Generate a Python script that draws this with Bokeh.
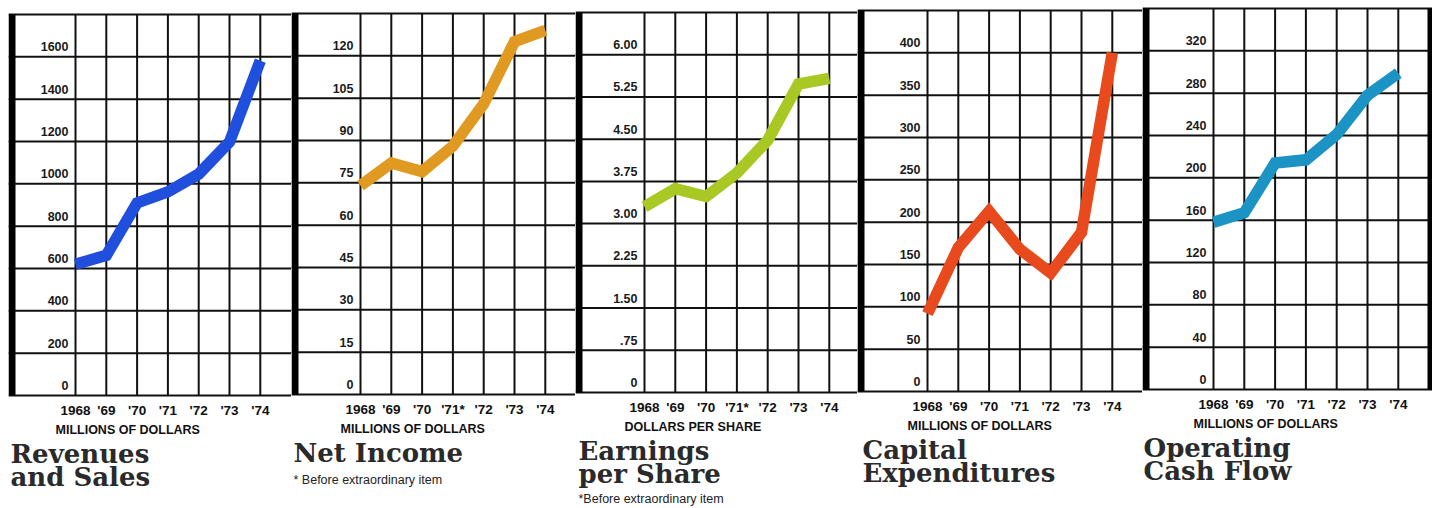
from bokeh.plotting import figure
from bokeh.layouts import row
from bokeh.models import Range1d, BoxAnnotation, Spacer
from bokeh.core.properties import value
from bokeh.embed import file_html
from bokeh.resources import INLINE

# ---------------- data ----------------
years = [1968, 1969, 1970, 1971, 1972, 1973, 1974]
year_labels = ["1968", "'69", "'70", "'71", "'72", "'73", "'74"]
year_labels_note = ["1968", "'69", "'70", "'71*", "'72", "'73", "'74"]

revenues = [620, 662, 910, 962, 1046, 1198, 1582]
net_income = [74, 82, 79, 88, 103, 125, 129]
eps = [3.30, 3.62, 3.48, 3.90, 4.48, 5.48, 5.58]
capex = [92, 170, 213, 168, 140, 188, 400]
cash_flow = [158, 167, 214, 217, 241, 278, 299]

rev_ticks = [0, 200, 400, 600, 800, 1000, 1200, 1400, 1600]
rev_labels = ["0", "200", "400", "600", "800", "1000", "1200", "1400", "1600"]
rev_top = 1800

ni_ticks = [0, 15, 30, 45, 60, 75, 90, 105, 120]
ni_labels = ["0", "15", "30", "45", "60", "75", "90", "105", "120"]
ni_top = 135

eps_ticks = [0, 0.75, 1.50, 2.25, 3.00, 3.75, 4.50, 5.25, 6.00]
eps_labels = ["0", ".75", "1.50", "2.25", "3.00", "3.75", "4.50", "5.25", "6.00"]
eps_top = 6.75

capex_ticks = [0, 50, 100, 150, 200, 250, 300, 350, 400]
capex_labels = ["0", "50", "100", "150", "200", "250", "300", "350", "400"]
capex_top = 450

ocf_ticks = [0, 40, 80, 120, 160, 200, 240, 280, 320]
ocf_labels = ["0", "40", "80", "120", "160", "200", "240", "280", "320"]
ocf_top = 360

titles = [["Revenues", "and Sales"], ["Net Income"], ["Earnings", "per Share"],
          ["Capital", "Expenditures"], ["Operating", "Cash Flow"]]
units = ["MILLIONS OF DOLLARS", "MILLIONS OF DOLLARS", "DOLLARS PER SHARE",
         "MILLIONS OF DOLLARS", "MILLIONS OF DOLLARS"]
note_text = "* Before extraordinary item"
note_text2 = "*Before extraordinary item"

# ---------------- layout / style ----------------
H = 508
PPY = 30.8
SANS = value("Liberation Sans")
SERIF = value("DejaVu Serif")
INK = "#111111"

panels = [
    dict(values=revenues, ticks=rev_ticks, labels=rev_labels, top=rev_top, color="#1f4fdc",
         width=283, x0=67, gt=14, gb=395, xl=year_labels, note=None, tx=2, right_bar=False),
    dict(values=net_income, ticks=ni_ticks, labels=ni_labels, top=ni_top, color="#e09a22",
         width=284, x0=69, gt=13, gb=394, xl=year_labels_note, note=(note_text, 85), tx=2, right_bar=False),
    dict(values=eps, ticks=eps_ticks, labels=eps_labels, top=eps_top, color="#a9c823",
         width=282, x0=69, gt=12, gb=392, xl=year_labels_note, note=(note_text2, 106), tx=3, right_bar=False),
    dict(values=capex, ticks=capex_ticks, labels=capex_labels, top=capex_top, color="#e84a1e",
         width=285, x0=70, gt=10, gb=391, xl=year_labels, note=None, tx=5, right_bar=False),
    dict(values=cash_flow, ticks=ocf_ticks, labels=ocf_labels, top=ocf_top, color="#1b93c4",
         width=290, x0=71, gt=8, gb=389, xl=year_labels, note=None, tx=1, right_bar=True),
]


def make_panel(i, cfg):
    w = cfg["width"]
    xs = years[0] - cfg["x0"] / PPY
    xe = xs + w / PPY
    T = cfg["top"]
    s = (cfg["gb"] - cfg["gt"]) / T
    ys = -(H - cfg["gb"]) / s
    ye = T + cfg["gt"] / s

    p = figure(width=w, height=H, x_range=Range1d(xs, xe), y_range=Range1d(ys, ye),
               output_backend="svg", toolbar_location=None, min_border=0,
               x_axis_type=None, y_axis_type=None, tools="")
    p.grid.visible = False
    p.outline_line_color = None
    p.background_fill_color = "white"
    p.border_fill_color = "white"

    # grid
    n = len(years)
    p.segment(x0=years, y0=[0] * n, x1=years, y1=[T] * n, line_color=INK, line_width=2)
    hl = list(cfg["ticks"]) + [T]
    p.segment(x0=[xs] * len(hl), y0=hl, x1=[xe] * len(hl), y1=hl, line_color=INK, line_width=2)

    # heavy left bar
    p.add_layout(BoxAnnotation(left=0, left_units="screen", right=7, right_units="screen",
                               bottom=0, top=T, fill_color="black", fill_alpha=1,
                               line_color=None))
    if cfg["right_bar"]:
        p.add_layout(BoxAnnotation(left=w - 5, left_units="screen", right=w, right_units="screen",
                                   bottom=0, top=T, fill_color="black", fill_alpha=1,
                                   line_color=None))

    # data band
    p.line(years, cfg["values"], line_color=cfg["color"], line_width=11.5,
           line_join="miter", line_cap="butt")

    # y tick labels (inside the grid, above each line)
    nt = len(cfg["ticks"])
    p.text(x=[years[0]] * nt, y=cfg["ticks"], text=cfg["labels"], x_offset=-7, y_offset=-10,
           text_align="right", text_baseline="alphabetic", text_font=SANS,
           text_font_size="12.5px", text_font_style="bold", text_color="#1a1a1a")

    # year labels
    p.text(x=years, y=[0] * n, text=cfg["xl"], y_offset=15, text_align="center",
           text_baseline="middle", text_font=SANS, text_font_size="13.5px",
           text_font_style="bold", text_color=INK)

    # unit label
    p.text(x=[years[0]], y=[0], text=[units[i]], x_offset=-20, y_offset=34,
           text_align="left", text_baseline="middle", text_font=SANS,
           text_font_size="12.5px", text_font_style="bold", text_color=INK)

    # title
    for k, line in enumerate(titles[i]):
        p.text(x=[xs], y=[0], text=[line], x_offset=cfg["tx"], y_offset=58 + 23 * k,
               text_align="left", text_baseline="alphabetic", text_font=SERIF,
               text_font_size="26px", text_font_style="bold", text_color="#2a2a2a")

    if cfg["note"]:
        txt, off = cfg["note"]
        p.text(x=[xs], y=[0], text=[txt], x_offset=cfg["tx"], y_offset=off,
               text_align="left", text_baseline="middle", text_font=SANS,
               text_font_size="12.5px", text_color="#222222")
    return p


figs = [make_panel(i, c) for i, c in enumerate(panels)]
layout = row(Spacer(width=8, height=H), *figs, spacing=0)

open("out.html", "w").write(file_html(layout, INLINE))
